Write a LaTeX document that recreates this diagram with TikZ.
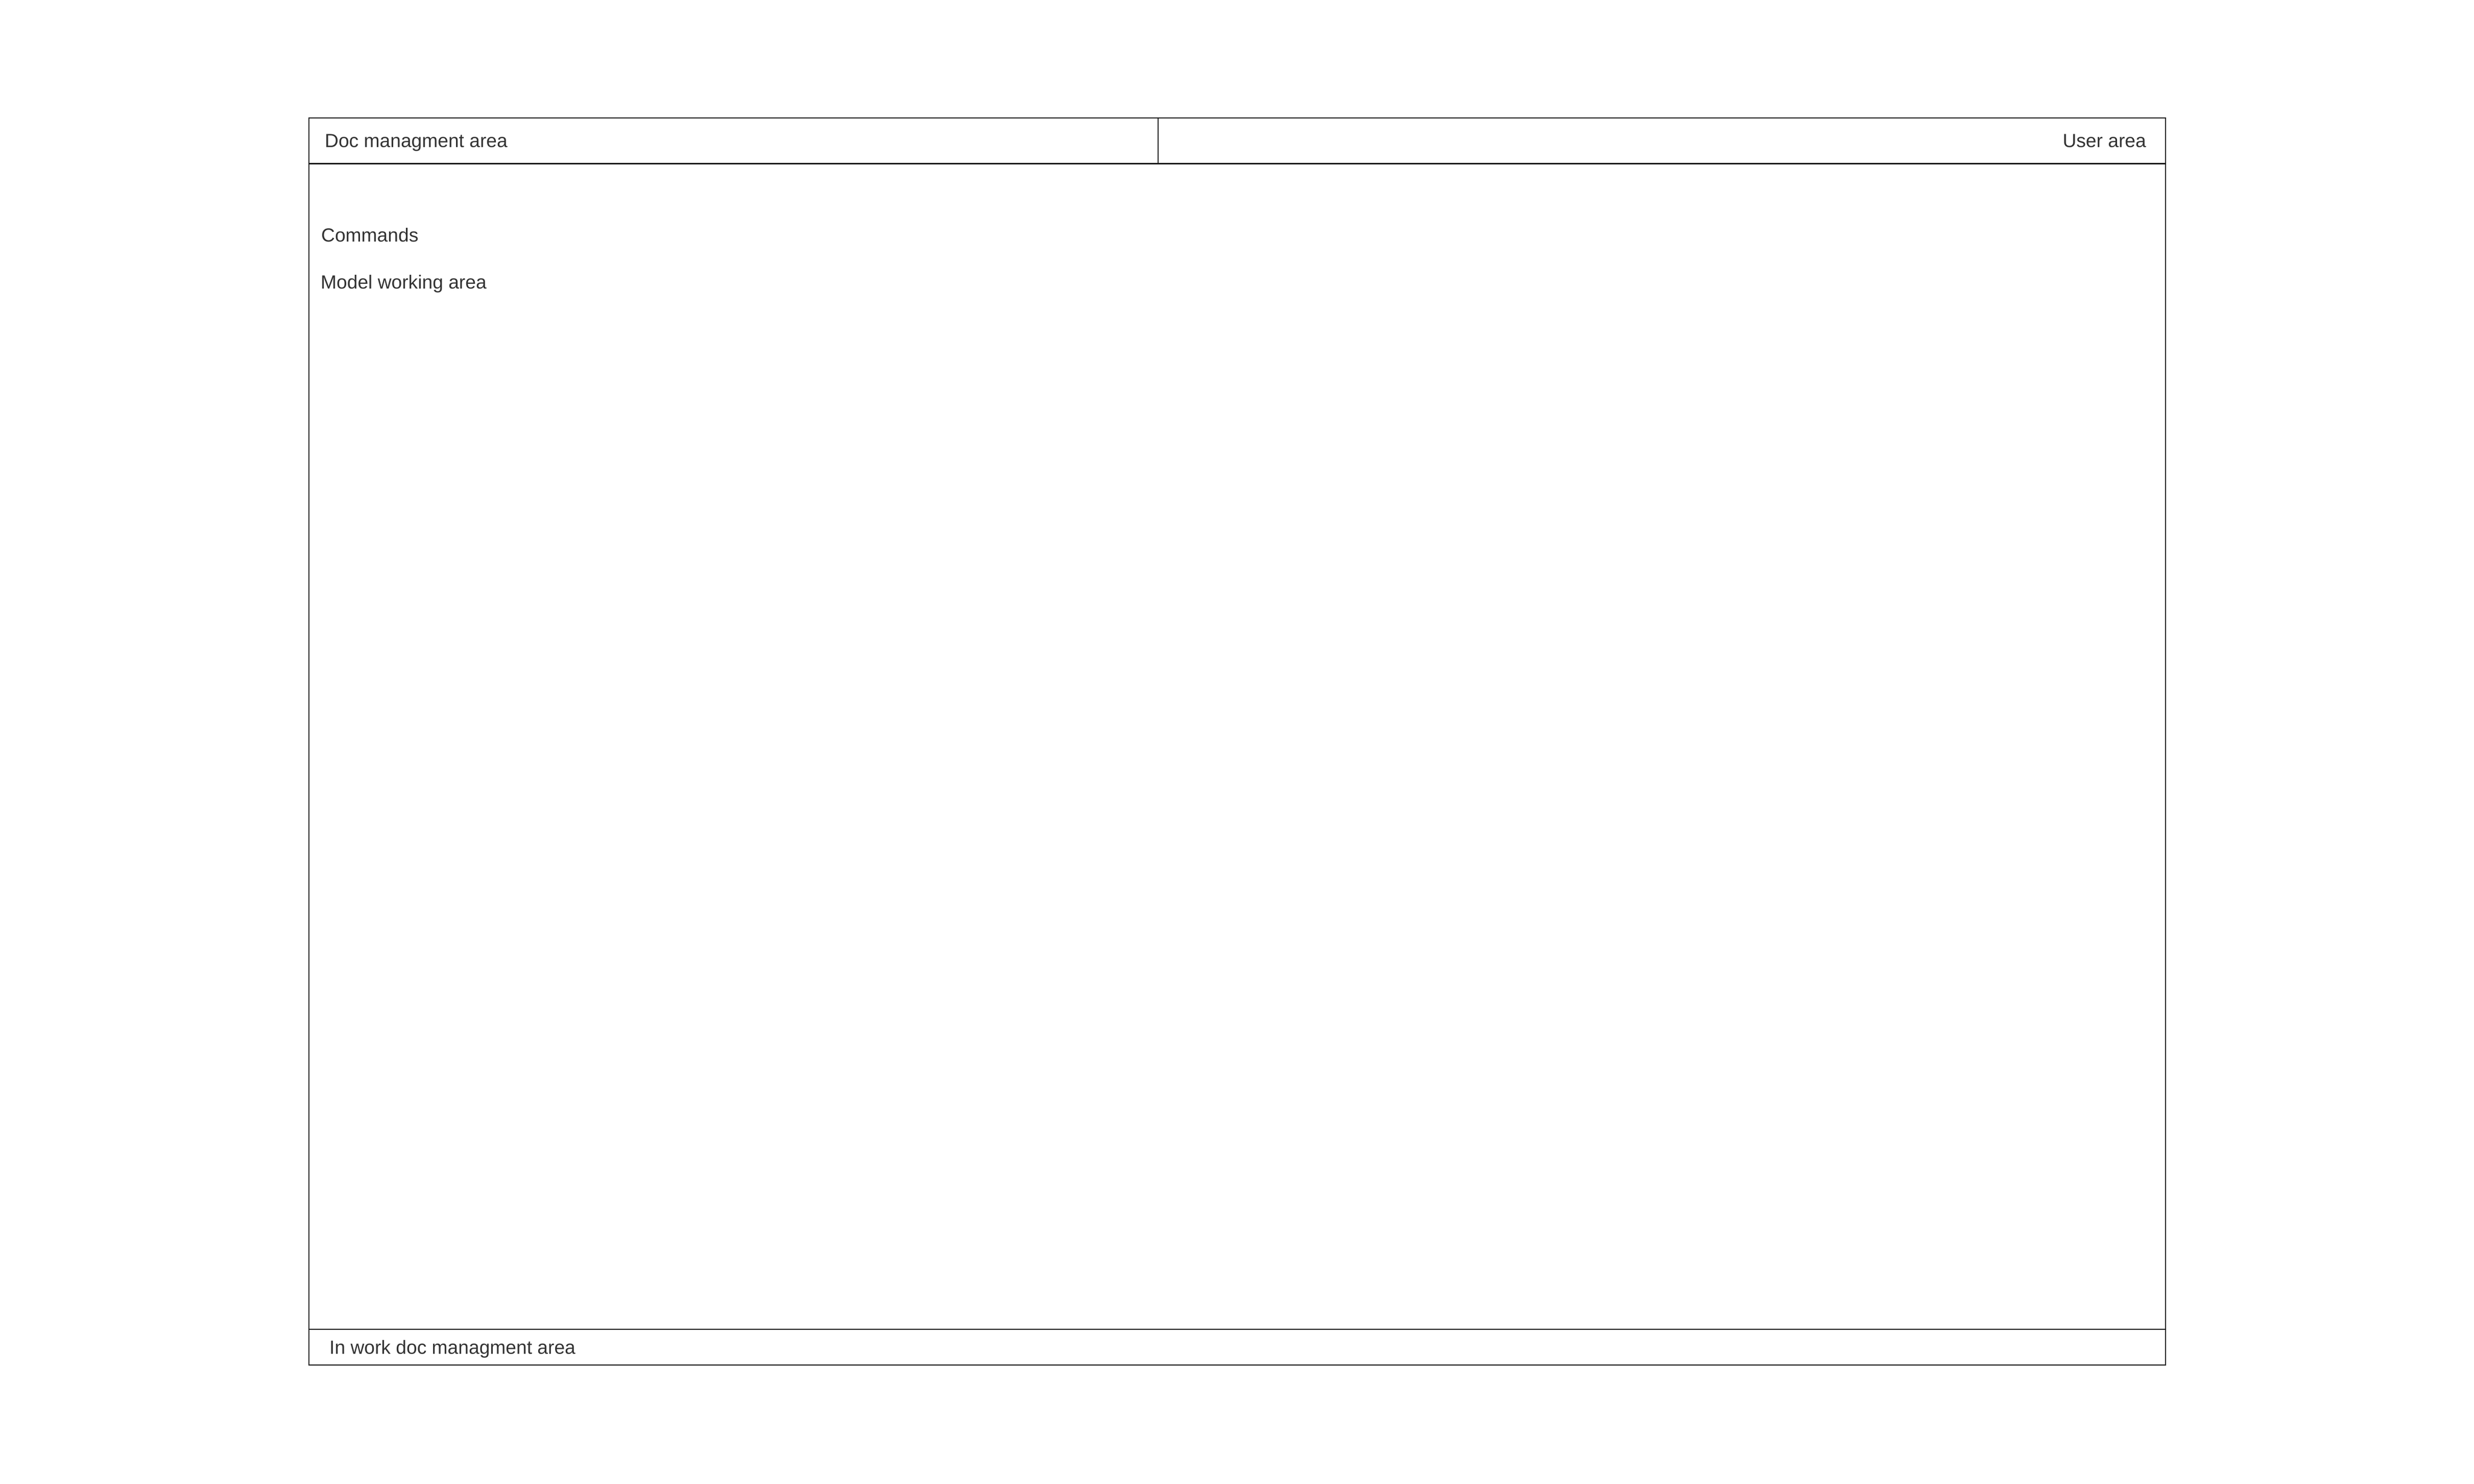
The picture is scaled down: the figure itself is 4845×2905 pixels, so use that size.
\documentclass[tikz,border=0pt]{standalone}
\usepackage{fontspec}
\setmainfont{Liberation Sans}
\begin{document}
\begin{tikzpicture}[x=1pt,y=-1pt,
  frame/.style={draw=black!90, line width=2.5pt},
  sep/.style={draw=black!90, line width=3pt},
  lbl/.style={inner sep=0pt, text=black!80, font=\fontsize{37.2}{44}\selectfont}]
\useasboundingbox (0,0) rectangle (4845,2905);
\fill[white] (0,0) rectangle (4845,2905);
% outer frame
\draw[frame] (605,231) rectangle (4241,2673);
% header row separator and divider
\coordinate (hl) at (605,320);
\coordinate (hr) at (4241,320);
\draw[sep] (hl) -- (hr);
\coordinate (dt) at (2268,231);
\coordinate (db) at (2268,320);
\draw[frame] (dt) -- (db);
% footer separator
\coordinate (fl) at (605,2603);
\coordinate (fr) at (4241,2603);
\draw[frame] (fl) -- (fr);
% labels
\node[lbl, anchor=base west] (doc) at (636,288) {Doc managment area};
\node[lbl, anchor=base east] (user) at (4203,288) {User area};
\node[lbl, anchor=base west] (cmd) at (629,473) {Commands};
\node[lbl, anchor=base west] (model) at (628,565) {Model working area};
\node[lbl, anchor=base west] (inwork) at (645,2651) {In work doc managment area};
\end{tikzpicture}
\end{document}
